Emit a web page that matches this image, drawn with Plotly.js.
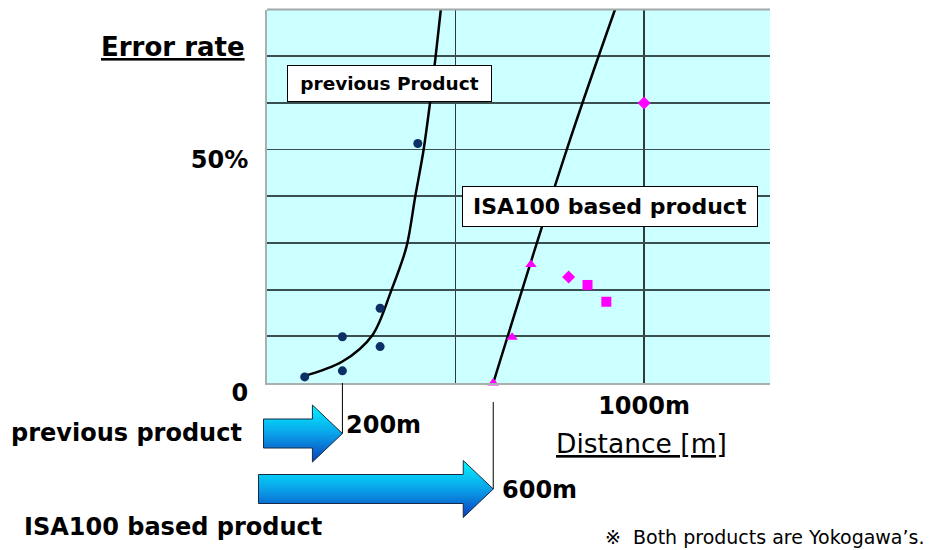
<!DOCTYPE html>
<html><head><meta charset="utf-8">
<script src="https://cdn.plot.ly/plotly-3.0.1.min.js"></script>
<style>html,body{margin:0;padding:0;background:#fff}#chart{width:933px;height:550px}</style>
</head><body><div id="chart"></div>
<script>
// ---- data ----
const prevX = [100, 200, 200, 300, 300, 400];
const prevY = [1.3, 2.6, 9.9, 7.8, 16.0, 51.3];
const prevCurveX = [95, 200, 280, 330, 370, 393, 415, 432, 447, 461];
const prevCurveY = [1.4, 4.6, 10.3, 19.9, 29.2, 39.9, 49.8, 59.8, 69.8, 80];
const isaX = [600, 650, 700, 800, 850, 900, 1000];
const isaY = [0, 9.8, 25.4, 22.7, 21.0, 17.4, 60.0];
const isaSymbols = ['triangle-up','triangle-up','triangle-up','diamond','square','square','diamond'];
const isaCurveX = [600, 795, 923];
const isaCurveY = [0, 50, 80];
const reachPrev = 200;
const reachIsa = 600;
const xTickVals = [500, 1000];
const xTickText = ['', '1000m'];
const yTickVals = [0, 10, 20, 30, 40, 50, 60, 70];
const yTickText = ['0', '', '', '', '', '50%', '', ''];
const reachLabels = ['200m', '600m'];

// ---- layout geometry (pixels) ----
const W = 933, H = 550;
const X0 = 267, X1 = 770, Y0 = 9.5, Y1 = 383;
const xRange = [0, 1334], yRange = [0, 80];
const FONT = 'DejaVu Sans';
const xPx = v => X0 + (v - xRange[0]) / (xRange[1] - xRange[0]) * (X1 - X0);
const px = p => p / W, py = p => 1 - p / H;

function arrow(tipV, tipY, tailX, bodyHalf, headHalf, headLen) {
  const t = xPx(tipV);
  return {
    x: [tailX, t - headLen, t - headLen, t, t - headLen, t - headLen, tailX, tailX],
    y: [tipY - bodyHalf, tipY - bodyHalf, tipY - headHalf, tipY, tipY + headHalf, tipY + bodyHalf, tipY + bodyHalf, tipY - bodyHalf]
  };
}
const grad = {type: 'vertical', colorscale: [[0, '#0840bc'], [0.5, '#0aa2ea'], [1, '#00f6ff']]};
const a1 = arrow(reachPrev, 433.5, 263.5, 14.5, 28.5, 30);
const a2 = arrow(reachIsa, 489, 258.5, 14.5, 28.5, 30);

const traces = [
  {x: prevCurveX, y: prevCurveY, mode: 'lines', line: {color: '#000', width: 2.5, shape: 'spline', smoothing: 0.9}, xaxis: 'x', yaxis: 'y', hoverinfo: 'skip'},
  {x: isaCurveX, y: isaCurveY, mode: 'lines', line: {color: '#000', width: 2.5, shape: 'spline'}, xaxis: 'x', yaxis: 'y', hoverinfo: 'skip'},
  {x: prevX, y: prevY, mode: 'markers', marker: {color: '#0c2f68', size: 9, symbol: 'circle'}, xaxis: 'x', yaxis: 'y', cliponaxis: false},
  {x: isaX, y: isaY, mode: 'markers', marker: {color: '#ff00ff', size: 10, symbol: isaSymbols}, xaxis: 'x', yaxis: 'y', cliponaxis: false},
  // decoration layer in pixel space
  {x: a1.x, y: a1.y, mode: 'lines', fill: 'toself', fillgradient: grad, line: {color: '#1b2a44', width: 1}, xaxis: 'x2', yaxis: 'y2', hoverinfo: 'skip'},
  {x: a2.x, y: a2.y, mode: 'lines', fill: 'toself', fillgradient: grad, line: {color: '#1b2a44', width: 1}, xaxis: 'x2', yaxis: 'y2', hoverinfo: 'skip'},
  {x: [xPx(reachPrev), xPx(reachPrev)], y: [Y1, 433.5], mode: 'lines', line: {color: '#000', width: 1}, xaxis: 'x2', yaxis: 'y2', hoverinfo: 'skip'},
  {x: [xPx(reachIsa), xPx(reachIsa)], y: [402, 489], mode: 'lines', line: {color: '#000', width: 1}, xaxis: 'x2', yaxis: 'y2', hoverinfo: 'skip'}
];

const bold = (s) => ({family: FONT, size: s, color: '#000', weight: 'bold'});
const annotations = [
  {text: '<u>Error rate</u>', x: px(247), y: py(47), xanchor: 'right', yanchor: 'middle', font: bold(26)},
  {text: '<u>Distance [m]</u>', x: px(554), y: py(443), xanchor: 'left', yanchor: 'middle', font: {family: FONT, size: 26.5, color: '#000'}},
  {text: 'previous product', x: px(244), y: py(433), xanchor: 'right', yanchor: 'middle', font: bold(24)},
  {text: 'ISA100 based product', x: px(22), y: py(527), xanchor: 'left', yanchor: 'middle', font: bold(24)},
  {text: reachLabels[0], x: px(xPx(reachPrev) + 2), y: py(425), xanchor: 'left', yanchor: 'middle', font: bold(24)},
  {text: reachLabels[1], x: px(xPx(reachIsa) + 7), y: py(490), xanchor: 'left', yanchor: 'middle', font: bold(24)},
  {text: '※  Both products are Yokogawa\u2019s.', x: px(603), y: py(537), xanchor: 'left', yanchor: 'middle', font: {family: FONT, size: 19, color: '#000'}},
  {text: 'previous Product', x: px(286.5), y: py(65), xanchor: 'left', yanchor: 'top', width: 203, height: 35, borderpad: 0, bgcolor: '#fff', bordercolor: '#000', borderwidth: 1, font: bold(18.5)},
  {text: 'ISA100 based product', x: px(462), y: py(186), xanchor: 'left', yanchor: 'top', width: 294, height: 39, borderpad: 0, bgcolor: '#fff', bordercolor: '#000', borderwidth: 1, font: bold(22)}
].map(a => Object.assign({xref: 'paper', yref: 'paper', showarrow: false}, a));

const layout = {
  width: W, height: H, margin: {l: 0, r: 0, t: 0, b: 0, pad: 0},
  paper_bgcolor: '#fff', plot_bgcolor: 'rgba(0,0,0,0)', showlegend: false,
  xaxis: {domain: [X0 / W, X1 / W], range: xRange, tickvals: xTickVals, ticktext: xTickText, showgrid: true, gridcolor: '#2e3c3c', gridwidth: 1.2,
          zeroline: false, showline: true, linecolor: '#a8b0b0', linewidth: 2, ticks: '', tickfont: bold(24), ticklabelstandoff: 0, anchor: 'y', fixedrange: true},
  yaxis: {domain: [1 - Y1 / H, 1 - Y0 / H], range: yRange, tickvals: yTickVals, ticktext: yTickText, showgrid: true, gridcolor: '#3a4f4f', gridwidth: 1.8,
          zeroline: false, showline: true, linecolor: '#a8b0b0', linewidth: 2, ticks: '', tickfont: bold(24), ticklabelshift: 10, ticklabelstandoff: 12, anchor: 'x', fixedrange: true},
  xaxis2: {domain: [0, 1], range: [0, W], visible: false, anchor: 'y2', fixedrange: true},
  yaxis2: {domain: [0, 1], range: [H, 0], visible: false, anchor: 'x2', fixedrange: true},
  shapes: [
    {type: 'rect', xref: 'x domain', yref: 'y domain', x0: 0, x1: 1, y0: 0, y1: 1, fillcolor: '#ccffff', line: {width: 0}, layer: 'below'},
    {type: 'line', xref: 'x domain', yref: 'y domain', x0: 0, x1: 1, y0: 1, y1: 1, line: {color: '#a0a8a8', width: 2}}
  ],
  annotations: annotations
};
Plotly.newPlot('chart', traces, layout, {staticPlot: true, displayModeBar: false});
</script></body></html>
